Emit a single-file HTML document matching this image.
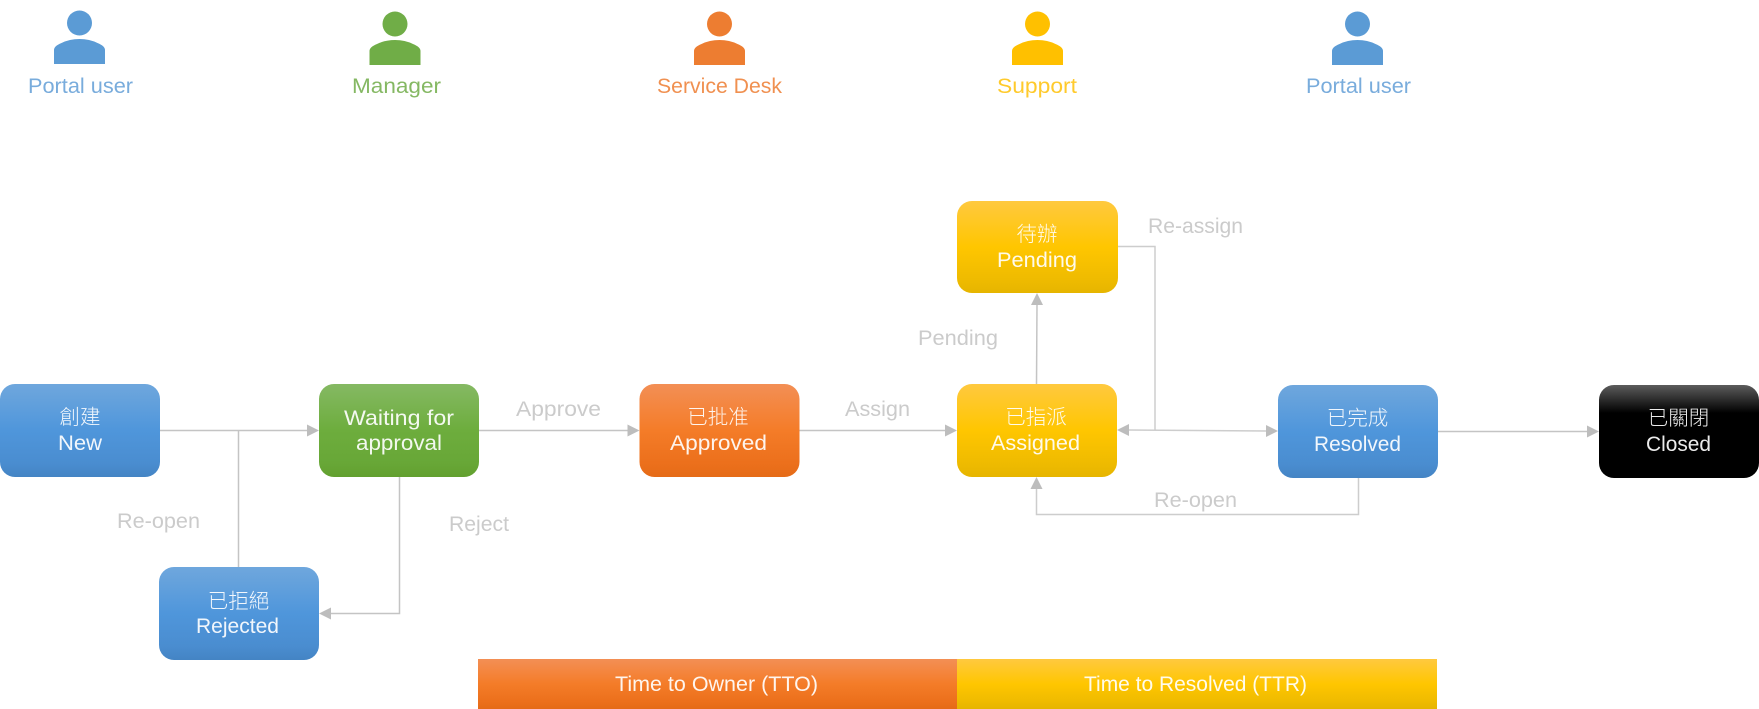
<!DOCTYPE html>
<html>
<head>
<meta charset="utf-8">
<style>
html,body{margin:0;padding:0;background:#fff;width:1759px;height:709px;overflow:hidden}
svg{display:block}
text{font-family:"Liberation Sans","Noto Sans CJK TC",sans-serif;font-weight:300}
.cjk{font-family:"Noto Sans CJK TC","Liberation Sans",sans-serif;font-size:20.5px;text-anchor:middle;font-weight:300;fill-opacity:.92}
.n{font-size:21px;fill:#fff;fill-opacity:.92}
.e{font-size:21px;fill:#cbcbcb}
.l{fill:none;stroke:#c4c4c4;stroke-width:1.5}
.a{fill:#bdbdbd}
</style>
</head>
<body>
<svg width="1759" height="709" viewBox="0 0 1759 709" xmlns="http://www.w3.org/2000/svg">
<defs>
<linearGradient id="b" x1="0" y1="0" x2="0" y2="1"><stop offset="0" stop-color="#6fa7dd"/><stop offset=".5" stop-color="#4f96db"/><stop offset=".85" stop-color="#4a8dd0"/><stop offset="1" stop-color="#4484c4"/></linearGradient>
<linearGradient id="g" x1="0" y1="0" x2="0" y2="1"><stop offset="0" stop-color="#85b963"/><stop offset=".5" stop-color="#6dad3d"/><stop offset=".85" stop-color="#68a737"/><stop offset="1" stop-color="#62a02f"/></linearGradient>
<linearGradient id="o" x1="0" y1="0" x2="0" y2="1"><stop offset="0" stop-color="#f38f55"/><stop offset=".5" stop-color="#f47c28"/><stop offset=".85" stop-color="#ec701c"/><stop offset="1" stop-color="#e56b17"/></linearGradient>
<linearGradient id="y" x1="0" y1="0" x2="0" y2="1"><stop offset="0" stop-color="#ffc93f"/><stop offset=".5" stop-color="#ffc600"/><stop offset=".85" stop-color="#efbb00"/><stop offset="1" stop-color="#e6b500"/></linearGradient>
<linearGradient id="k" x1="0" y1="0" x2="0" y2="1"><stop offset="0" stop-color="#5c5c5c"/><stop offset=".3" stop-color="#000"/><stop offset="1" stop-color="#000"/></linearGradient>
<path id="body" d="M-25.500 25V11Q-25.500 7 -18 4Q-10 0 0 0Q10 0 18 4Q25.500 7 25.500 11V25Z"/>
</defs>

<!-- actor icons -->
<g fill="#5b9bd5"><circle cx="79.500" cy="23" r="12.500"/><use href="#body" x="79.500" y="39"/></g>
<g fill="#70ad47"><circle cx="395" cy="24" r="12.500"/><use href="#body" x="395" y="40"/></g>
<g fill="#ed7d31"><circle cx="719.500" cy="24" r="12.500"/><use href="#body" x="719.500" y="40"/></g>
<g fill="#ffc000"><circle cx="1037.500" cy="24" r="12.500"/><use href="#body" x="1037.500" y="40"/></g>
<g fill="#5b9bd5"><circle cx="1357.500" cy="24" r="12.500"/><use href="#body" x="1357.500" y="40"/></g>

<text x="28" y="93" font-size="21" fill="#79acdc" textLength="105" lengthAdjust="spacingAndGlyphs">Portal user</text>
<text x="352" y="93" font-size="21" fill="#85b863" textLength="89" lengthAdjust="spacingAndGlyphs">Manager</text>
<text x="657" y="93" font-size="21" fill="#f09050" textLength="125" lengthAdjust="spacingAndGlyphs">Service Desk</text>
<text x="997" y="93" font-size="21" fill="#ffca2c" textLength="80" lengthAdjust="spacingAndGlyphs">Support</text>
<text x="1306" y="93" font-size="21" fill="#79acdc" textLength="105" lengthAdjust="spacingAndGlyphs">Portal user</text>

<!-- connectors -->
<path class="l" d="M160 430.500H308"/>
<path class="l" d="M238.500 430.500V567"/>
<path class="l" d="M399.500 477V613.500H330"/>
<path class="l" d="M479 430.500H628"/>
<path class="l" d="M799 430.500H946"/>
<path class="l" d="M1036.500 384L1037 304"/>
<path class="l" style="stroke:#cdcdcd" d="M1118 246.500H1155V430"/>
<path class="l" style="stroke:#cdcdcd" d="M1128 430L1267 431"/>
<path class="l" style="stroke:#cdcdcd" d="M1358.500 478V514.500H1036.500V488"/>
<path class="l" d="M1438 431.500H1588"/>

<path class="a" d="M319 430.500L307 424.500V436.500Z"/>
<path class="a" d="M319 613.500L331 607.500V619.500Z"/>
<path class="a" d="M639.500 430.500L627.500 424.500V436.500Z"/>
<path class="a" d="M957 430.500L945 424.500V436.500Z"/>
<path class="a" d="M1037 293L1031 305H1043Z"/>
<path class="a" d="M1117 430L1129 424V436Z"/>
<path class="a" d="M1278 431L1266 425V437Z"/>
<path class="a" d="M1036.500 477L1030.500 489H1042.500Z"/>
<path class="a" d="M1599 431.500L1587 425.500V437.500Z"/>

<!-- nodes -->
<rect x="0" y="384" width="160" height="93" rx="15" fill="url(#b)"/>
<rect x="319" y="384" width="160" height="93" rx="15" fill="url(#g)"/>
<rect x="159" y="567" width="160" height="93" rx="15" fill="url(#b)"/>
<rect x="639.500" y="384" width="160" height="93" rx="15" fill="url(#o)"/>
<rect x="957" y="384" width="160" height="93" rx="15" fill="url(#y)"/>
<rect x="957" y="201" width="161" height="92" rx="15" fill="url(#y)"/>
<rect x="1278" y="385" width="160" height="93" rx="15" fill="url(#b)"/>
<rect x="1599" y="385" width="160" height="93" rx="15" fill="url(#k)"/>

<!-- bars -->
<rect x="478" y="659" width="479" height="50" fill="url(#o)"/>
<rect x="957" y="659" width="480" height="50" fill="url(#y)"/>

<!-- node labels -->
<text class="cjk" x="80" y="424" fill="#fff">創建</text>
<text class="n" x="58" y="450" textLength="44" lengthAdjust="spacingAndGlyphs">New</text>
<text class="n" x="344" y="425" textLength="110" lengthAdjust="spacingAndGlyphs">Waiting for</text>
<text class="n" x="356" y="450" textLength="86" lengthAdjust="spacingAndGlyphs">approval</text>
<text class="cjk" x="238.500" y="608" fill="#fff">已拒絕</text>
<text class="n" x="196" y="633" textLength="83" lengthAdjust="spacingAndGlyphs">Rejected</text>
<text class="cjk" x="718" y="424" fill="#fff">已批准</text>
<text class="n" x="670" y="450" textLength="97" lengthAdjust="spacingAndGlyphs">Approved</text>
<text class="cjk" x="1036" y="424" fill="#fff">已指派</text>
<text class="n" x="991" y="450" textLength="89" lengthAdjust="spacingAndGlyphs">Assigned</text>
<text class="cjk" x="1037" y="241" fill="#fff">待辦</text>
<text class="n" x="997" y="267" textLength="80" lengthAdjust="spacingAndGlyphs">Pending</text>
<text class="cjk" x="1357.500" y="425" fill="#fff">已完成</text>
<text class="n" x="1314" y="451" textLength="87" lengthAdjust="spacingAndGlyphs">Resolved</text>
<text class="cjk" x="1678.500" y="425" fill="#fff">已關閉</text>
<text class="n" x="1646" y="451" textLength="65" lengthAdjust="spacingAndGlyphs">Closed</text>

<!-- edge labels -->
<text class="e" x="516" y="416" textLength="85" lengthAdjust="spacingAndGlyphs">Approve</text>
<text class="e" x="845" y="416" textLength="65" lengthAdjust="spacingAndGlyphs">Assign</text>
<text class="e" x="117" y="528" textLength="83" lengthAdjust="spacingAndGlyphs">Re-open</text>
<text class="e" x="449" y="531" textLength="60" lengthAdjust="spacingAndGlyphs">Reject</text>
<text class="e" x="918" y="345" textLength="80" lengthAdjust="spacingAndGlyphs">Pending</text>
<text class="e" x="1148" y="233" textLength="95" lengthAdjust="spacingAndGlyphs">Re-assign</text>
<text class="e" x="1154" y="507" textLength="83" lengthAdjust="spacingAndGlyphs">Re-open</text>

<!-- bar labels -->
<text class="n" x="615" y="691" textLength="203" lengthAdjust="spacingAndGlyphs">Time to Owner (TTO)</text>
<text class="n" x="1084" y="691" textLength="223" lengthAdjust="spacingAndGlyphs">Time to Resolved (TTR)</text>
</svg>
</body>
</html>
